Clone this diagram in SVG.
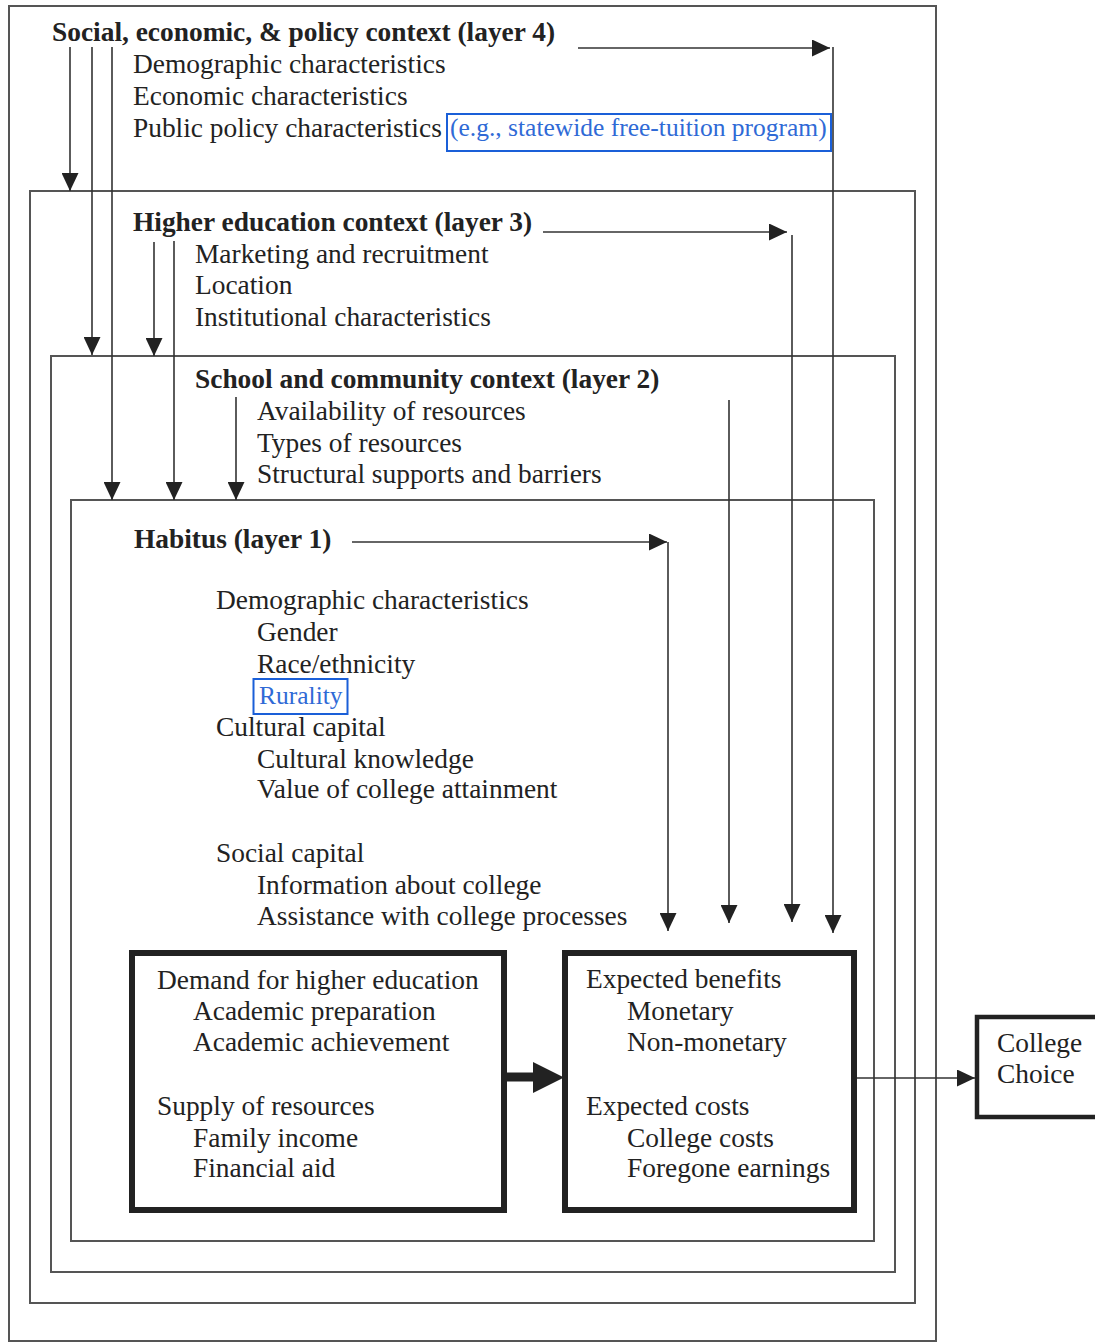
<svg xmlns="http://www.w3.org/2000/svg" width="1095" height="1343" viewBox="0 0 1095 1343">
<style>
text{font-family:"Liberation Serif","Times New Roman",serif;font-size:27.4px;fill:#222}
.b{font-weight:bold}
.blue{fill:#2f6ad6;font-size:25.5px}
.layer{fill:none;stroke:#555;stroke-width:2}
.thick{fill:#fff;stroke:#222;stroke-width:6}
.hl{fill:none;stroke:#1a5fd8;stroke-width:2}
.c{fill:none;stroke:#333;stroke-width:1.6}
</style>
<defs>
<marker id="ah" markerUnits="userSpaceOnUse" markerWidth="18" markerHeight="17" refX="18" refY="8.5" orient="auto">
<path d="M0,0 L18,8.5 L0,17 z" fill="#222"/>
</marker>
</defs>
<rect width="1095" height="1343" fill="#fff"/>
<g id="layer4">
<rect class="layer" x="9" y="6" width="927" height="1335"/>
<text class="b" x="52" y="41">Social, economic, &amp; policy context (layer 4)</text>
<text x="133" y="73">Demographic characteristics</text>
<text x="133" y="105">Economic characteristics</text>
<text x="133" y="137">Public policy characteristics</text>
<rect class="hl" x="447" y="114" width="384" height="37"/>
<text class="blue" x="450" y="136">(e.g., statewide free-tuition program)</text>
</g>
<g id="layer3">
<rect class="layer" x="30" y="191" width="885" height="1112"/>
<text class="b" x="133" y="231">Higher education context (layer 3)</text>
<text x="195" y="263">Marketing and recruitment</text>
<text x="195" y="294">Location</text>
<text x="195" y="326">Institutional characteristics</text>
</g>
<g id="layer2">
<rect class="layer" x="51" y="356" width="844" height="916"/>
<text class="b" x="195" y="388">School and community context (layer 2)</text>
<text x="257" y="420">Availability of resources</text>
<text x="257" y="452">Types of resources</text>
<text x="257" y="483">Structural supports and barriers</text>
</g>
<g id="layer1">
<rect class="layer" x="71" y="500" width="803" height="741"/>
<text class="b" x="134" y="548">Habitus (layer 1)</text>
<text x="216" y="609">Demographic characteristics</text>
<text x="257" y="641">Gender</text>
<text x="257" y="673">Race/ethnicity</text>
<rect class="hl" x="253.5" y="679" width="94" height="35"/>
<text class="blue" x="259" y="704">Rurality</text>
<text x="216" y="736">Cultural capital</text>
<text x="257" y="768">Cultural knowledge</text>
<text x="257" y="798">Value of college attainment</text>
<text x="216" y="862">Social capital</text>
<text x="257" y="894">Information about college</text>
<text x="257" y="925">Assistance with college processes</text>
</g>
<g id="demand">
<rect class="thick" x="132" y="953" width="372" height="257"/>
<text x="157" y="989">Demand for higher education</text>
<text x="193" y="1020">Academic preparation</text>
<text x="193" y="1051">Academic achievement</text>
<text x="157" y="1115">Supply of resources</text>
<text x="193" y="1147">Family income</text>
<text x="193" y="1177">Financial aid</text>
</g>
<g id="expected">
<rect class="thick" x="565" y="953" width="289" height="257"/>
<text x="586" y="988">Expected benefits</text>
<text x="627" y="1020">Monetary</text>
<text x="627" y="1051">Non-monetary</text>
<text x="586" y="1115">Expected costs</text>
<text x="627" y="1147">College costs</text>
<text x="627" y="1177">Foregone earnings</text>
</g>
<g id="choice">
<rect x="977" y="1017" width="130" height="100" fill="#fff" stroke="#222" stroke-width="4.5"/>
<text x="997" y="1052">College</text>
<text x="997" y="1083">Choice</text>
</g>
<g id="connectors">
<path class="c" d="M70,47 V191" marker-end="url(#ah)"/>
<path class="c" d="M92,47 V355" marker-end="url(#ah)"/>
<path class="c" d="M112,47 V500" marker-end="url(#ah)"/>
<path class="c" d="M578,48 H830" marker-end="url(#ah)"/>
<path class="c" d="M833,47 V933" marker-end="url(#ah)"/>
<path class="c" d="M154,242 V356" marker-end="url(#ah)"/>
<path class="c" d="M174,241 V500" marker-end="url(#ah)"/>
<path class="c" d="M543,232 H787" marker-end="url(#ah)"/>
<path class="c" d="M792,235 V922" marker-end="url(#ah)"/>
<path class="c" d="M236,397 V500" marker-end="url(#ah)"/>
<path class="c" d="M729,400 V923" marker-end="url(#ah)"/>
<path class="c" d="M352,542 H667" marker-end="url(#ah)"/>
<path class="c" d="M668,542 V931" marker-end="url(#ah)"/>
<path d="M507,1077 H536" stroke="#222" stroke-width="9" fill="none"/>
<polygon points="533,1062 564,1077.5 533,1093" fill="#222"/>
<path class="c" d="M857,1078 H975" marker-end="url(#ah)"/>
</g>
</svg>
